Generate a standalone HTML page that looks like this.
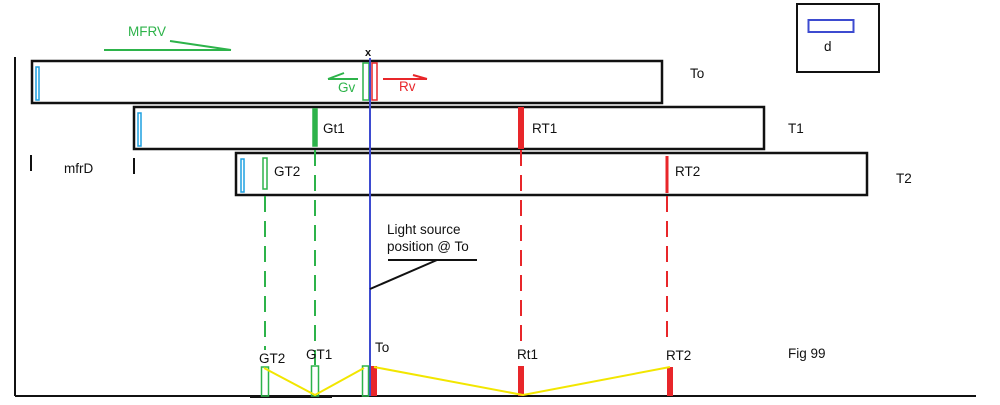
<!DOCTYPE html>
<html><head><style>
html,body{margin:0;padding:0;background:#fff;}
svg{display:block;}
text{font-family:"Liberation Sans",sans-serif;font-size:13.5px;fill:#111;}
</style></head><body>
<svg width="1000" height="405" viewBox="0 0 1000 405" xmlns="http://www.w3.org/2000/svg">
<rect width="1000" height="405" fill="#fff"/>
<line x1="15" y1="57" x2="15" y2="396" stroke="#111" stroke-width="2"/>
<line x1="15" y1="396" x2="976" y2="396" stroke="#111" stroke-width="2"/>
<line x1="250" y1="397" x2="332" y2="397" stroke="#111" stroke-width="2"/>
<text x="128" y="36" style="fill:#2db34a;font-size:13.5px">MFRV</text>
<line x1="104" y1="50" x2="231" y2="50" stroke="#2db34a" stroke-width="2"/>
<line x1="170" y1="41" x2="231" y2="50" stroke="#2db34a" stroke-width="2"/>
<rect x="797" y="4" width="82" height="68" fill="none" stroke="#111" stroke-width="2"/>
<rect x="808.5" y="20" width="45" height="12" fill="none" stroke="#3d4bd0" stroke-width="2"/>
<text x="824" y="51">d</text>
<rect x="32" y="61" width="630" height="42" fill="none" stroke="#111" stroke-width="2.5"/>
<rect x="134" y="107" width="630" height="42" fill="none" stroke="#111" stroke-width="2.5"/>
<rect x="236" y="153" width="631" height="42" fill="none" stroke="#111" stroke-width="2.5"/>
<text x="690" y="78">To</text>
<text x="788" y="133">T1</text>
<text x="896" y="183">T2</text>
<rect x="36" y="67" width="3" height="33" fill="none" stroke="#1ea0e0" stroke-width="1.5"/>
<rect x="138" y="113" width="3" height="33" fill="none" stroke="#1ea0e0" stroke-width="1.5"/>
<rect x="241" y="159" width="3" height="33" fill="none" stroke="#1ea0e0" stroke-width="1.5"/>
<line x1="31" y1="155" x2="31" y2="171" stroke="#111" stroke-width="2"/>
<line x1="134" y1="158" x2="134" y2="174" stroke="#111" stroke-width="2"/>
<text x="64" y="173">mfrD</text>
<text x="365" y="56" style="font-weight:bold;font-size:11px">x</text>
<rect x="363" y="63" width="6" height="37" fill="none" stroke="#2db34a" stroke-width="1.5"/>
<rect x="372" y="63" width="5" height="37" fill="none" stroke="#e8262a" stroke-width="1.5"/>
<line x1="328" y1="79" x2="358" y2="79" stroke="#2db34a" stroke-width="2"/>
<line x1="328" y1="79" x2="344" y2="73" stroke="#2db34a" stroke-width="2"/>
<text x="338" y="92" style="fill:#2db34a">Gv</text>
<line x1="383" y1="79" x2="427" y2="79" stroke="#e8262a" stroke-width="2"/>
<line x1="413" y1="75" x2="427" y2="79" stroke="#e8262a" stroke-width="2"/>
<text x="399" y="91" style="fill:#e8262a">Rv</text>
<rect x="313" y="109" width="4" height="37" fill="#2db34a" stroke="#2db34a" stroke-width="1.5"/>
<text x="323" y="133">Gt1</text>
<rect x="518" y="107" width="6" height="42" fill="#e8262a"/>
<text x="532" y="133">RT1</text>
<rect x="263" y="158" width="4" height="31" fill="none" stroke="#2db34a" stroke-width="1.5"/>
<text x="274" y="176">GT2</text>
<line x1="667" y1="156" x2="667" y2="193" stroke="#e8262a" stroke-width="3"/>
<text x="675" y="176">RT2</text>
<line x1="370" y1="58" x2="370" y2="396" stroke="#3d4bd0" stroke-width="2"/>
<line x1="315" y1="150" x2="315" y2="365" stroke="#2db34a" stroke-width="2" stroke-dasharray="16,9"/>
<line x1="265" y1="196" x2="265" y2="350" stroke="#2db34a" stroke-width="2" stroke-dasharray="16,9"/>
<line x1="521" y1="150" x2="521" y2="345" stroke="#e8262a" stroke-width="2" stroke-dasharray="16,9"/>
<line x1="667" y1="196" x2="667" y2="345" stroke="#e8262a" stroke-width="2" stroke-dasharray="16,9"/>
<text x="387" y="234">Light source</text>
<text x="387" y="251">position @ To</text>
<line x1="388" y1="260" x2="477" y2="260" stroke="#111" stroke-width="2"/>
<line x1="437" y1="260" x2="370" y2="289" stroke="#111" stroke-width="2"/>
<text x="259" y="363">GT2</text>
<text x="306" y="359">GT1</text>
<text x="375" y="352">To</text>
<text x="517" y="359">Rt1</text>
<text x="666" y="360">RT2</text>
<text x="788" y="358">Fig 99</text>
<rect x="261.5" y="367" width="7" height="29" fill="none" stroke="#2db34a" stroke-width="1.5"/>
<rect x="311.5" y="366" width="7" height="30" fill="none" stroke="#2db34a" stroke-width="1.5"/>
<rect x="362.5" y="366" width="6" height="30" fill="none" stroke="#2db34a" stroke-width="1.5"/>
<rect x="371" y="366" width="6" height="30" fill="#e8262a"/>
<rect x="518" y="366" width="6" height="30" fill="#e8262a"/>
<rect x="667" y="367" width="6" height="29" fill="#e8262a"/>
<polyline points="264,368 315,395 364,368" fill="none" stroke="#f2e600" stroke-width="2"/>
<polyline points="374,367 523,395 670,367" fill="none" stroke="#f2e600" stroke-width="2"/>
</svg>
</body></html>
